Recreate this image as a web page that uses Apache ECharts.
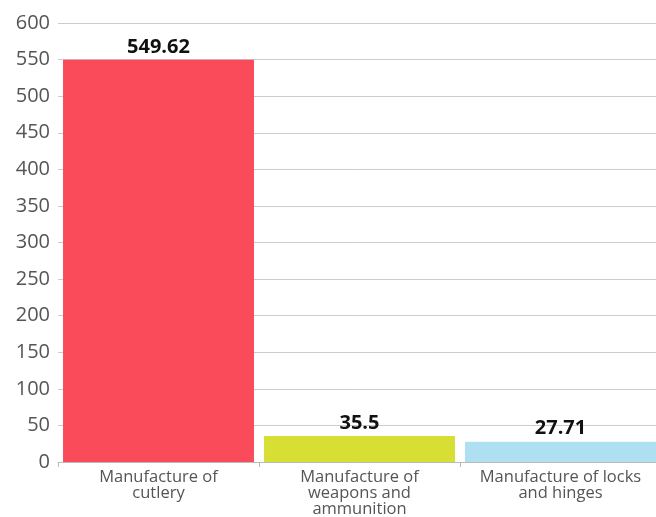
<!DOCTYPE html>
<html>
<head>
<meta charset="utf-8">
<script src="https://cdn.jsdelivr.net/npm/echarts@6/dist/echarts.min.js"></script>
<style>
  html, body { margin: 0; padding: 0; background: #fff; }
  #chart { width: 656px; height: 517px; }
</style>
</head>
<body>
<div id="chart"></div>
<script>
const categories = ['Manufacture of\ncutlery', 'Manufacture of\nweapons and\nammunition', 'Manufacture of locks\nand hinges'];
const values = [549.62, 35.5, 27.71];
const barColors = ['#FA4B5B', '#D7DF34', '#AEE0F2'];

const chart = echarts.init(document.getElementById('chart'));

const option = {
  backgroundColor: '#ffffff',
  animation: false,
  grid: {
    left: 58,
    width: 603,
    top: 23,
    bottom: 55,
    outerBoundsMode: 'none'
  },
  xAxis: {
    type: 'category',
    data: categories,
    axisLine: { lineStyle: { color: '#bbbbbb' } },
    axisTick: { show: true, lineStyle: { color: '#bbbbbb' } },
    axisLabel: {
      color: '#555555',
      fontSize: 16.5,
      fontFamily: 'Open Sans',
      lineHeight: 16,
      interval: 0,
      margin: 7
    }
  },
  yAxis: {
    type: 'value',
    min: 0,
    max: 600,
    interval: 50,
    axisLine: { show: false },
    axisTick: { show: false },
    splitLine: { lineStyle: { color: '#cccccc' } },
    axisLabel: {
      color: '#555555',
      fontSize: 20,
      fontFamily: 'Open Sans',
      margin: 8
    }
  },
  series: [{
    type: 'bar',
    barCategoryGap: '5%',
    data: values.map((v, i) => ({ value: v, itemStyle: { color: barColors[i] } })),
    label: {
      show: true,
      position: 'top',
      color: '#111111',
      fontSize: 20,
      fontWeight: 'bold',
      fontFamily: 'Open Sans',
      distance: 3
    }
  }]
};

chart.setOption(option);
</script>
</body>
</html>
